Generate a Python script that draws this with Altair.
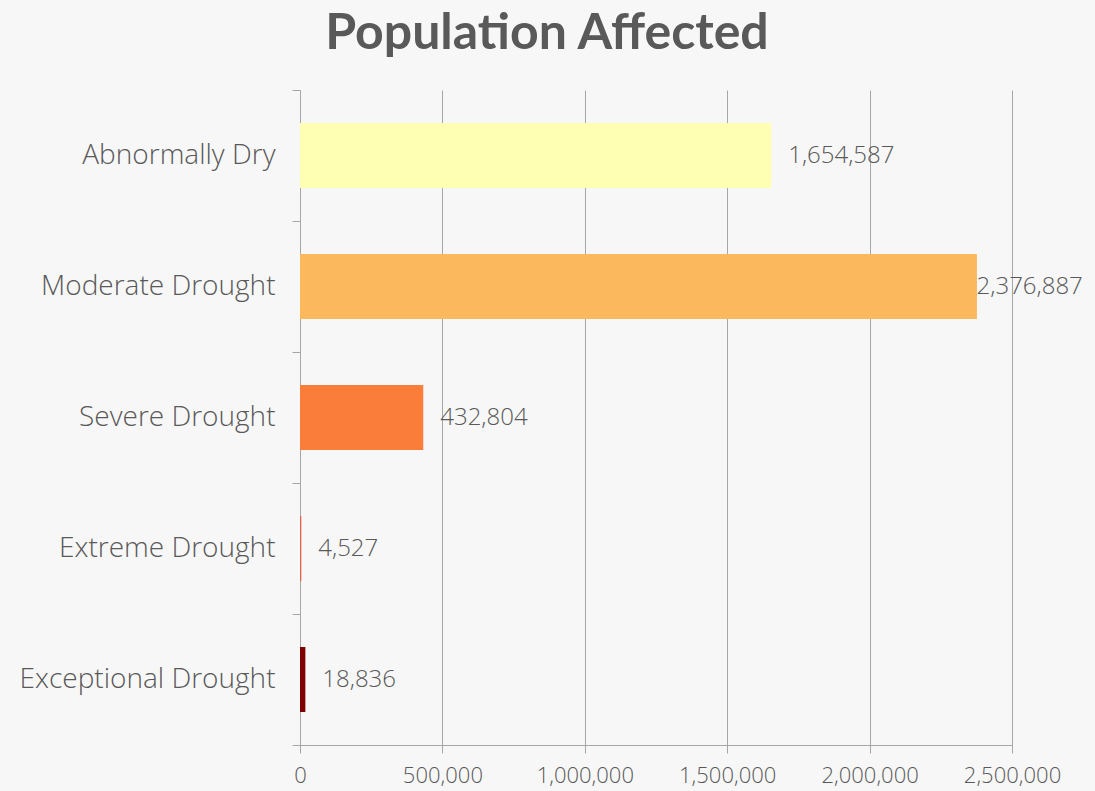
import altair as alt
import pandas as pd

# Drought categories and the population living in each
categories = [
    "Abnormally Dry",
    "Moderate Drought",
    "Severe Drought",
    "Extreme Drought",
    "Exceptional Drought",
]
population = [1654587, 2376887, 432804, 4527, 18836]
bar_colors = ["#FFFFB3", "#FCB85D", "#FA7D39", "#E0604A", "#7F0000"]
x_ticks = [0, 500000, 1000000, 1500000, 2000000, 2500000]

df = pd.DataFrame({"category": categories, "population": population})

FONT = "Open Sans"
TEXT = "#595959"
LINE = "#a6a6a6"

y_scale = alt.Scale(domain=categories, paddingInner=0, paddingOuter=0)
x_scale = alt.Scale(domain=[0, 2500000], nice=False)

x_axis = alt.Axis(
    title=None,
    values=x_ticks,
    labelExpr="format(datum.value, ',')",
    labelOverlap=False,
    labelFlush=False,
    labelBound=False,
    tickSize=8,
    tickColor=LINE,
    domainColor=LINE,
    gridColor=LINE,
    gridOpacity=1,
    labelFont=FONT,
    labelFontSize=22,
    labelFontWeight=300,
    labelColor=TEXT,
    labelPadding=12,
)
y_axis = alt.Axis(
    title=None,
    tickBand="extent",
    tickSize=8,
    tickColor=LINE,
    domainColor=LINE,
    labelFont=FONT,
    labelFontSize=28,
    labelFontWeight=300,
    labelColor=TEXT,
    labelPadding=17,
    labelLimit=400,
    grid=False,
)

bars = alt.Chart(df).mark_bar(size=65).encode(
    x=alt.X("population:Q", scale=x_scale, axis=x_axis),
    y=alt.Y("category:N", sort=categories, scale=y_scale, axis=y_axis),
    color=alt.Color(
        "category:N",
        sort=categories,
        scale=alt.Scale(domain=categories, range=bar_colors),
        legend=None,
    ),
)

# Value labels to the right of each bar, kept inside the chart for the longest bar
labels = (
    alt.Chart(df)
    .transform_calculate(label_x="min(datum.population, 2316000)")
    .mark_text(
        align="left",
        baseline="middle",
        dx=17,
        font=FONT,
        fontSize=24,
        fontWeight=300,
        color=TEXT,
    )
    .encode(
        x=alt.X("label_x:Q", scale=x_scale, axis=x_axis),
        y=alt.Y("category:N", sort=categories, scale=y_scale, axis=y_axis),
        text=alt.Text("population:Q", format=","),
    )
)

chart = (
    alt.layer(bars, labels)
    .properties(
        width=712,
        height=655,
        autosize=alt.AutoSizeParams(type="none"),
        padding={"left": 300, "top": 90, "right": 83, "bottom": 46},
        background="#f7f7f7",
        title=alt.TitleParams(
            "Population Affected",
            font="Lato",
            fontSize=50,
            fontWeight="bold",
            color=TEXT,
            anchor="middle",
            dx=-109,
            offset=17,
        ),
    )
    .configure_view(stroke=None)
)

chart.save("out.html", embed_options={"renderer": "svg", "actions": False})
